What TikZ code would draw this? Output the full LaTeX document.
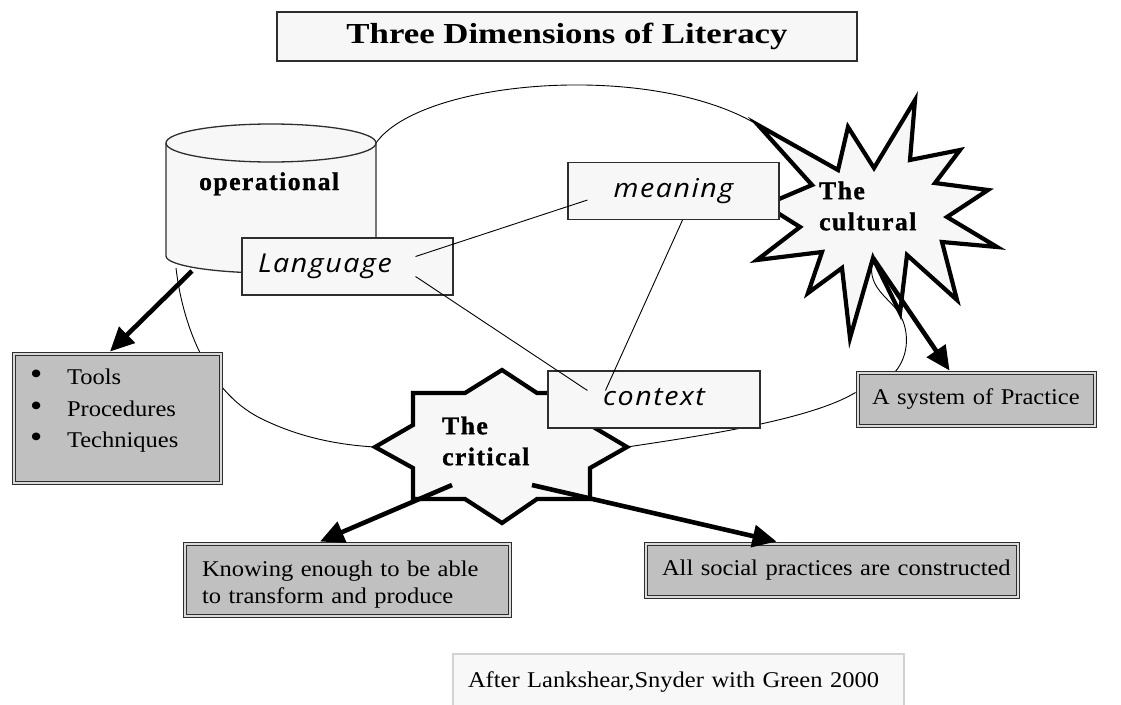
\documentclass[tikz,border=0pt]{standalone}
\usepackage{fontspec}
\setmainfont{Liberation Serif}[FakeStretch=1.09]
\newfontfamily\headfont{Liberation Serif}[FakeStretch=1.2]
\newfontfamily\tagfont{Liberation Serif Bold}[FakeBold=1.2,LetterSpace=6]
\newfontfamily\handfont{Open Sans}[FakeStretch=1.1,LetterSpace=6]
\usetikzlibrary{arrows.meta,calc}
\pgfdeclarelayer{back}
\pgfdeclarelayer{mid}
\pgfsetlayers{back,mid,main}

\definecolor{paper}{HTML}{F7F7F7}
\definecolor{boxgray}{HTML}{C0C0C0}
\definecolor{rim}{HTML}{2E2E2E}
\definecolor{gap}{HTML}{DADADA}
\definecolor{faint}{HTML}{D2D2D2}
\definecolor{notepaper}{HTML}{F8F8F8}

\newcommand\bodyfont{\fontsize{22.5}{31.5}\selectfont}
\newcommand\tagsize{\tagfont\fontsize{25.5}{31}\selectfont}
\newcommand\handsize{\handfont\itshape\fontsize{26}{30}\selectfont}
\newcommand\dotmark{\makebox[37pt][l]{\fontsize{32}{32}\selectfont\textbullet}}

\tikzset{
  lightbox/.style={draw=rim, line width=1.1pt, fill=paper, inner ysep=0pt},
  wordbox/.style={lightbox, font=\handsize, minimum width=211pt, minimum height=57pt,
    text height=18pt, text depth=6pt},
  graybox/.style={draw=rim, line width=0.9pt, double=gap, double distance=1.6pt,
    fill=boxgray, font=\bodyfont, align=left, inner ysep=0pt},
  starline/.style={draw=black, line width=4.2pt, fill=paper, line join=miter, miter limit=20},
  tagtext/.style={font=\tagsize, inner sep=0pt, align=left},
  linkline/.style={draw=black, line width=0.9pt},
  heavyarrow/.style={draw=black, line width=4.6pt, -{Triangle[length=24pt,width=22pt]}},
}

\begin{document}
\begin{tikzpicture}[x=1pt,y=-1pt]
\useasboundingbox (0,0) rectangle (1121,704);

% anchor points on the cylinder and on the two stars
\coordinate (cyl-ne) at (376,143);
\coordinate (cyl-sw) at (176,268);
\coordinate (cyl-s)  at (192,271);
\coordinate (cult-tl) at (758,125);
\coordinate (cult-in) at (873,258);
\coordinate (crit-w) at (375,447);
\coordinate (crit-e) at (627,447);
\coordinate (crit-sl) at (452,485);
\coordinate (crit-sr) at (532,485);

% title
\node[lightbox, minimum width=580pt, minimum height=49pt, line width=1.5pt,
      font=\headfont\bfseries\fontsize{29}{34}\selectfont] (title) at (567,36.5)
      {Three Dimensions of Literacy};

% cylinder and stars
\begin{pgfonlayer}{mid}
\path[draw=rim, line width=1.3pt, fill=paper]
  (166,143) -- (166,256) arc[start angle=180, end angle=0, x radius=105, y radius=17]
  -- (376,143) arc[start angle=0, end angle=-180, x radius=105, y radius=19] -- cycle;
\draw[rim, line width=1.3pt] (166,143) arc[start angle=180, end angle=0, x radius=105, y radius=19];

\path[starline] (cult-tl) -- (838,170) -- (848,127) -- (874,168) -- (915,100) -- (910,160)
  -- (960,150) -- (935,183) -- (988,190) -- (947,217) -- (997,247) -- (942,242)
  -- (957,300) -- (907,255) -- (900,313) -- (cult-in) -- (850,338) -- (842,268)
  -- (808,293) -- (822,252) -- (757,260) -- (800,227) -- (765,205) -- (812,185) -- cycle;

\path[starline] (413,393) -- (465,393) -- (502,370) -- (537,393) -- (590,393) -- (590,425)
  -- (crit-e) -- (590,468) -- (590,499) -- (537,499) -- (502,523) -- (465,499)
  -- (413,499) -- (413,468) -- (crit-w) -- (413,425) -- cycle;
\end{pgfonlayer}

\node[tagtext, anchor=base west] (oper) at (199,190) {operational};
\node[tagtext, anchor=west] (cultlabel) at (819,206) {The\\cultural};
\node[tagtext, anchor=west] (critlabel) at (442,441) {The\\critical};

% word boxes
\node[wordbox, text width=179pt, inner xsep=16pt, align=left] (lang) at (347.5,266.5) {Language};
\node[wordbox] (mean) at (673.5,191) {meaning};
\node[wordbox, minimum width=212pt] (ctx) at (654,399.5) {context};

% grey boxes
\node[graybox, text width=175pt, inner xsep=16pt, minimum height=129pt] (tools) at (117.5,418.5)
  {\dotmark Tools\\
   \dotmark Procedures\\
   \dotmark Techniques\rule[-20pt]{0pt}{20pt}};
\node[graybox, text width=291pt, inner xsep=17pt, minimum height=72pt,
      font=\fontsize{22.5}{27}\selectfont] (know) at (347.5,580)
  {\rule{0pt}{25.4pt}Knowing enough to be able\\to transform and produce};
\node[graybox, text width=340pt, inner xsep=16pt, minimum height=53pt,
      text height=15.4pt, text depth=4.9pt] (social) at (832,570.5)
  {\mbox{All social practices are constructed}};
\node[graybox, text width=209pt, inner xsep=14pt, minimum height=53pt,
      text height=15.4pt, text depth=4.9pt] (sys) at (976.5,399.5) {\mbox{A system of Practice}};

% source note
\node[draw=faint, line width=1.2pt, fill=notepaper, font=\bodyfont, text width=421pt,
      inner xsep=15pt, minimum height=56pt, align=left, text height=15.4pt, text depth=4.9pt]
      (note) at (678.5,682) {\mbox{After Lankshear,Snyder with Green 2000}};

% thin curved links
\begin{pgfonlayer}{back}
\draw[linkline] (cyl-ne) .. controls (420,80) and (650,60) .. (cult-tl);
\draw[linkline] (cyl-sw) .. controls (182,320) and (205,390) .. (260,418)
  .. controls (300,438) and (340,445) .. (crit-w);
\draw[linkline] (crit-e) .. controls (700,436) and (810,420) .. ($(sys.west)+(-2,-7)$);
\draw[linkline] (cult-in) .. controls (866,285) and (885,295) .. (897,310)
  .. controls (910,328) and (910,355) .. ($(sys.north west)+(37,0)$);
\end{pgfonlayer}

% straight links between the words
\draw[linkline] ($(lang.east)+(-38,-10)$) -- ($(mean.west)+(20,9)$);
\draw[linkline] ($(lang.east)+(-38,10)$) -- ($(ctx.west)+(40,-9)$);
\draw[linkline] ($(mean.south)+(9,0)$) -- ($(ctx.west)+(58,-9)$);

% heavy arrows
\draw[heavyarrow] (cyl-s) -- ($(tools.north)+(-7.5,-2)$);
\draw[heavyarrow] (cult-in) -- ($(sys.north west)+(92,-2)$);
\draw[heavyarrow] (crit-sl) -- ($(know.north)+(-27.5,-2)$);
\draw[heavyarrow] (crit-sr) -- ($(social.north west)+(131,-2)$);
\end{tikzpicture}
\end{document}
